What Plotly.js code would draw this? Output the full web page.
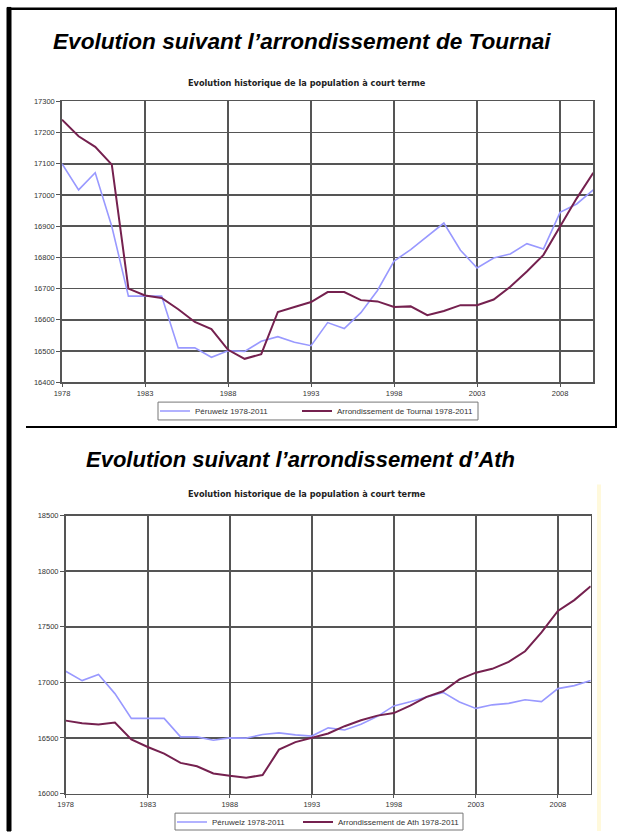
<!DOCTYPE html>
<html>
<head>
<meta charset="utf-8">
<script src="https://cdn.plot.ly/plotly-3.0.1.min.js"></script>
<style>
  html, body { margin: 0; padding: 0; background: #ffffff; }
  #chart { width: 624px; height: 837px; }
</style>
</head>
<body>
<div id="chart"></div>
<script>
// Years 1978 .. 2010 (x categories)
const years = [1978, 1979, 1980, 1981, 1982, 1983, 1984, 1985, 1986, 1987, 1988,
               1989, 1990, 1991, 1992, 1993, 1994, 1995, 1996, 1997, 1998, 1999,
               2000, 2001, 2002, 2003, 2004, 2005, 2006, 2007, 2008, 2009, 2010];

const xTickVals = [1978, 1983, 1988, 1993, 1998, 2003, 2008];
const xTickText = ['1978', '1983', '1988', '1993', '1998', '2003', '2008'];

// Péruwelz population (same series in both charts)
const peruwelz = [17100, 17016, 17071, 16899, 16676, 16676, 16676, 16510, 16510, 16480, 16501,
                  16499, 16531, 16546, 16528, 16517, 16591, 16572, 16623, 16694, 16788, 16825,
                  16867, 16910, 16823, 16766, 16798, 16811, 16844, 16827, 16944, 16971, 17016];

// Arrondissement de Tournai
const tournai = [17241, 17188, 17154, 17097, 16700, 16678, 16670, 16634, 16593, 16570, 16504,
                 16475, 16490, 16625, 16641, 16657, 16689, 16689, 16663, 16659, 16641, 16643,
                 16615, 16628, 16647, 16647, 16665, 16706, 16755, 16808, 16899, 16989, 17071];

// Arrondissement d'Ath
const ath = [16656, 16632, 16621, 16638, 16487, 16419, 16359, 16276, 16246, 16181, 16160,
             16143, 16166, 16395, 16463, 16499, 16540, 16606, 16659, 16701, 16724, 16790,
             16870, 16920, 17027, 17087, 17122, 17185, 17280, 17449, 17642, 17740, 17865];

const labelPeruwelz = 'Péruwelz 1978-2011';
const labelTournai = 'Arrondissement de Tournai 1978-2011';
const labelAth = 'Arrondissement de Ath 1978-2011';

const mainTitle1 = 'Evolution suivant l’arrondissement de Tournai';
const mainTitle2 = 'Evolution suivant l’arrondissement d’Ath';
const subTitle = 'Evolution historique de la population à court terme';

const W = 624, H = 837;
const px = v => v / W;
const py = v => 1 - v / H;

const blue = '#9999ff';
const maroon = '#75214f';
const gridC = '#555555';

const traces = [
  { x: years, y: peruwelz, type: 'scatter', mode: 'lines', name: labelPeruwelz,
    line: { color: blue, width: 1.6 }, xaxis: 'x', yaxis: 'y', legend: 'legend' },
  { x: years, y: tournai, type: 'scatter', mode: 'lines', name: labelTournai,
    line: { color: maroon, width: 2 }, xaxis: 'x', yaxis: 'y', legend: 'legend3' },
  { x: years, y: peruwelz, type: 'scatter', mode: 'lines', name: labelPeruwelz,
    line: { color: blue, width: 1.6 }, xaxis: 'x2', yaxis: 'y2', legend: 'legend2' },
  { x: years, y: ath, type: 'scatter', mode: 'lines', name: labelAth,
    line: { color: maroon, width: 2 }, xaxis: 'x2', yaxis: 'y2', legend: 'legend4' }
];

const tickFont = { family: 'Liberation Sans, Arial, sans-serif', size: 7.5, color: '#333333' };

function xAxis(domain, anchor) {
  return {
    domain: domain, anchor: anchor, type: 'linear', range: [1978, 2010],
    tickvals: xTickVals, ticktext: xTickText, showgrid: true,
    gridcolor: gridC, gridwidth: 1.7, showline: true, linecolor: gridC, linewidth: 1.7,
    mirror: true, ticks: 'outside', ticklen: 3, tickcolor: gridC, tickfont: tickFont,
    zeroline: false, fixedrange: true
  };
}
function yAxis(domain, anchor, range, dtick) {
  return {
    domain: domain, anchor: anchor, range: range, dtick: dtick, tick0: range[0],
    tickformat: 'd', showgrid: true, gridcolor: gridC, gridwidth: 1.7,
    showline: true, linecolor: gridC, linewidth: 1.7, mirror: true,
    ticks: 'outside', ticklen: 4, tickcolor: gridC, tickfont: tickFont,
    zeroline: false, fixedrange: true
  };
}

const legendFont = { family: 'Liberation Sans, Arial, sans-serif', size: 8, color: '#333333' };
function legendAt(xPix, yPix) {
  return {
    orientation: 'h', x: px(xPix), y: py(yPix), xanchor: 'left', yanchor: 'middle',
    borderwidth: 0, bgcolor: 'rgba(0,0,0,0)', font: legendFont, itemwidth: 30
  };
}

const layout = {
  width: W, height: H, autosize: false,
  margin: { l: 0, r: 0, t: 0, b: 0, pad: 0 },
  paper_bgcolor: '#ffffff', plot_bgcolor: '#ffffff',
  showlegend: true,
  xaxis: xAxis([px(62), px(593.3)], 'y'),
  yaxis: yAxis([py(385), py(102)], 'x', [16400, 17300], 100),
  xaxis2: xAxis([px(65.7), px(590.7)], 'y2'),
  yaxis2: yAxis([py(799.3), py(519.3)], 'x2', [16000, 18500], 500),
  legend: legendAt(155, 414),
  legend3: legendAt(297, 414),
  legend2: legendAt(172, 828),
  legend4: legendAt(298, 828),
  annotations: [
    { text: '<b><i>' + mainTitle1 + '</i></b>', xref: 'paper', yref: 'paper',
      x: px(302), y: py(42), xanchor: 'center', yanchor: 'middle', showarrow: false,
      font: { family: 'Liberation Sans, Arial, sans-serif', size: 22.6, color: '#000000' } },
    { text: '<b>' + subTitle + '</b>', xref: 'paper', yref: 'paper',
      x: px(307), y: py(84), xanchor: 'center', yanchor: 'middle', showarrow: false,
      font: { family: 'DejaVu Sans, Verdana, sans-serif', size: 8.2, color: '#222222' } },
    { text: '<b><i>' + mainTitle2 + '</i></b>', xref: 'paper', yref: 'paper',
      x: px(300), y: py(463), xanchor: 'center', yanchor: 'middle', showarrow: false,
      font: { family: 'Liberation Sans, Arial, sans-serif', size: 22, color: '#000000' } },
    { text: '<b>' + subTitle + '</b>', xref: 'paper', yref: 'paper',
      x: px(307), y: py(498), xanchor: 'center', yanchor: 'middle', showarrow: false,
      font: { family: 'DejaVu Sans, Verdana, sans-serif', size: 8.2, color: '#222222' } }
  ],
  shapes: [
    // outer frame: left, top, right (top panel), divider
    { type: 'rect', xref: 'paper', yref: 'paper', x0: px(7), x1: px(11), y0: py(7.5), y1: py(837),
      fillcolor: '#000000', line: { color: '#000000', width: 1 } },
    { type: 'rect', xref: 'paper', yref: 'paper', x0: px(7), x1: px(617), y0: py(7.5), y1: py(10),
      fillcolor: '#000000', line: { width: 0 } },
    { type: 'rect', xref: 'paper', yref: 'paper', x0: px(615), x1: px(617), y0: py(7.5), y1: py(431),
      fillcolor: '#000000', line: { width: 0 } },
    { type: 'rect', xref: 'paper', yref: 'paper', x0: px(26), x1: px(617), y0: py(429), y1: py(431),
      fillcolor: '#000000', line: { width: 0 } },
    // legend frames
    { type: 'rect', xref: 'paper', yref: 'paper', x0: px(158), x1: px(478), y0: py(405), y1: py(423),
      line: { color: '#777777', width: 1 }, fillcolor: 'rgba(0,0,0,0)' },
    { type: 'rect', xref: 'paper', yref: 'paper', x0: px(175), x1: px(463), y0: py(819), y1: py(836),
      line: { color: '#777777', width: 1 }, fillcolor: 'rgba(0,0,0,0)' },
    // faint yellow strip at right of lower chart
    { type: 'rect', xref: 'paper', yref: 'paper', x0: px(597), x1: px(601), y0: py(488), y1: py(837),
      fillcolor: '#fff9dc', line: { width: 0 }, layer: 'below' }
  ]
};

Plotly.newPlot('chart', traces, layout, { staticPlot: true, displayModeBar: false });
</script>
</body>
</html>
